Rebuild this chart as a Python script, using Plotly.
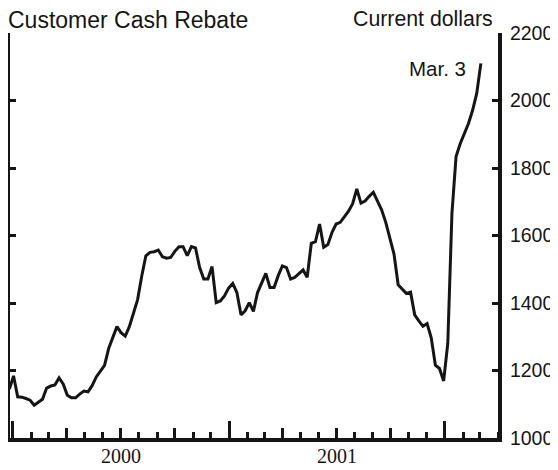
import pandas as pd
import plotly.graph_objects as go

# Weekly observations, late Dec 1999 through Mar. 3, 2002
start_date = "1999-12-26"
n_weeks = 115
dates = pd.date_range(start_date, periods=n_weeks, freq="7D")

rebate = [
    1145, 1184, 1122, 1121, 1117, 1112, 1097, 1106, 1115, 1148,
    1154, 1157, 1178, 1160, 1127, 1119, 1119, 1130, 1139, 1137,
    1155, 1181, 1198, 1215, 1265, 1300, 1330, 1312, 1302, 1330,
    1370, 1410, 1480, 1540, 1550, 1552, 1557, 1537, 1533, 1535,
    1553, 1567, 1567, 1540, 1567, 1563, 1505, 1471, 1471, 1508,
    1401, 1406, 1421, 1444, 1458, 1431, 1365, 1377, 1401, 1375,
    1431, 1461, 1488, 1446, 1446, 1481, 1510, 1505, 1471, 1476,
    1487, 1498, 1476, 1577, 1582, 1634, 1565, 1573, 1609, 1634,
    1639, 1654, 1672, 1694, 1738, 1696, 1702, 1716, 1728, 1702,
    1676, 1639, 1595, 1545, 1454, 1441, 1428, 1432, 1365, 1347,
    1331, 1339, 1297, 1216, 1206, 1169, 1280, 1664, 1834, 1872,
    1902, 1932, 1971, 2021, 2110,
]

y_ticks = [1000, 1200, 1400, 1600, 1800, 2000, 2200]
x_range = ["1999-12-27", "2002-04-01"]

title_left = "Customer Cash Rebate"
title_right = "Current dollars"
end_label = "Mar. 3"

INK = "#151515"
SANS = "Liberation Sans, Arial, Helvetica, sans-serif"
SERIF = "Liberation Serif, Times New Roman, serif"

fig = go.Figure()
fig.add_trace(go.Scatter(
    x=dates, y=rebate, mode="lines",
    line=dict(color=INK, width=3), hoverinfo="skip", showlegend=False,
))
# invisible companion trace so the quarterly tick axis is drawn
fig.add_trace(go.Scatter(
    x=dates, y=rebate, mode="lines", xaxis="x2",
    line=dict(color="rgba(0,0,0,0)", width=0), hoverinfo="skip", showlegend=False,
))

# the page body adds an 8px margin, so the figure is 8px smaller each way
fig.update_layout(
    width=550, height=462,
    margin=dict(l=2, r=60, t=25, b=32),
    paper_bgcolor="white", plot_bgcolor="white",
    xaxis=dict(
        type="date", range=x_range, automargin=False,
        showgrid=False, zeroline=False,
        showline=True, linecolor=INK, linewidth=4,
        ticks="inside", ticklen=17, tickwidth=3, tickcolor=INK,
        dtick="M12", tick0="2000-01-01",
        tickformat="%Y", ticklabelmode="period",
        tickfont=dict(family=SERIF, size=20, color=INK),
        ticklabelstandoff=-3,
        minor=dict(dtick="M1", tick0="2000-01-01", ticks="inside",
                   ticklen=6, tickwidth=3, tickcolor=INK, showgrid=False),
    ),
    xaxis2=dict(
        type="date", range=x_range, overlaying="x", anchor="y", side="bottom",
        automargin=False,
        showgrid=False, zeroline=False, showline=False,
        ticks="inside", ticklen=10, tickwidth=3, tickcolor=INK,
        dtick="M3", tick0="2000-01-01", showticklabels=False,
    ),
    yaxis=dict(
        range=[1000, 2200], side="right", automargin=False,
        tickvals=y_ticks, ticktext=[str(v) for v in y_ticks],
        showgrid=False, zeroline=False,
        showline=True, linecolor=INK, linewidth=4, mirror="ticks",
        ticks="inside", ticklen=6, tickwidth=3, tickcolor=INK,
        tickfont=dict(family=SANS, size=19.5, color=INK),
        ticklabelstandoff=4,
    ),
    annotations=[
        dict(text=title_left, xref="paper", yref="paper", x=0, y=1,
             xanchor="left", yanchor="middle", xshift=-3, yshift=14,
             height=21, borderpad=0,
             showarrow=False, font=dict(family=SANS, size=23, color=INK)),
        dict(text=title_right, xref="paper", yref="paper", x=1, y=1,
             xanchor="right", yanchor="middle", xshift=-4, yshift=14,
             height=20, borderpad=0,
             showarrow=False, font=dict(family=SANS, size=21.3, color=INK)),
        dict(text=end_label, x=dates[-1], y=rebate[-1], xref="x", yref="y",
             xanchor="right", yanchor="middle", xshift=-13, yshift=-5,
             showarrow=False, font=dict(family=SANS, size=20.5, color=INK)),
    ],
)

fig.write_html("out.html")
